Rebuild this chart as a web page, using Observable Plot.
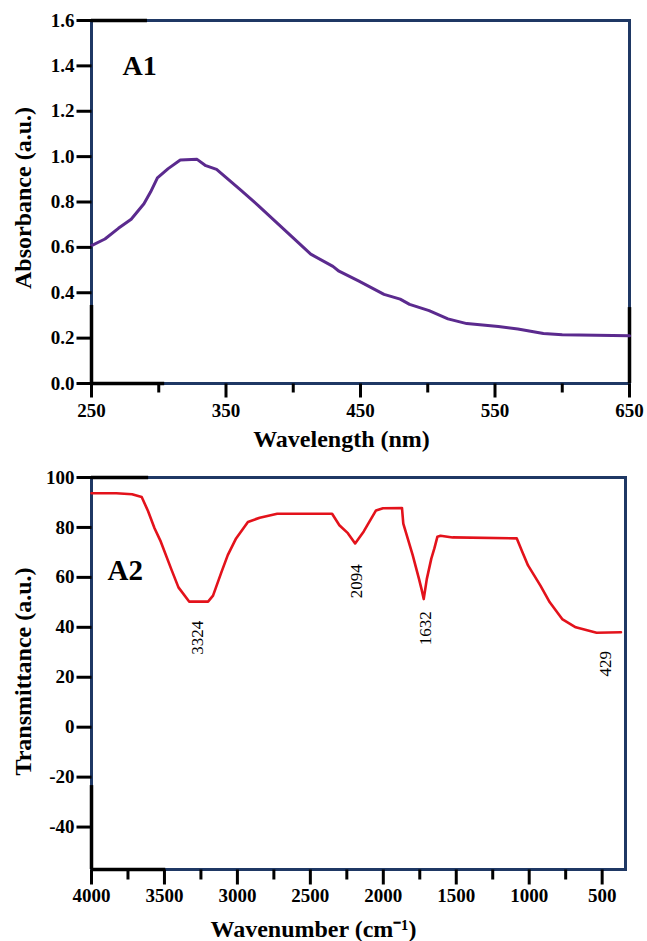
<!DOCTYPE html>
<html><head><meta charset="utf-8">
<script src="https://cdn.jsdelivr.net/npm/d3@7"></script>
<script src="https://cdn.jsdelivr.net/npm/@observablehq/plot@0.6"></script>
<style>
body{margin:0;background:#fff;}
#chart svg{display:block;}
</style></head><body><div id="chart"></div>
<script>
// ---- A1: UV-Vis absorbance ----
const wavelength = [250, 260, 270, 279.5, 289, 294, 299, 307, 316, 328.5, 335, 343, 361, 374, 393.5, 413, 429.5, 434, 448.5, 467.5, 479.5, 486.5, 501, 515, 529, 552.5, 567, 586, 600, 650];
const absorbance = [0.608, 0.637, 0.684, 0.724, 0.792, 0.845, 0.906, 0.947, 0.985, 0.988, 0.960, 0.944, 0.852, 0.784, 0.677, 0.570, 0.516, 0.495, 0.452, 0.393, 0.372, 0.349, 0.321, 0.285, 0.264, 0.251, 0.240, 0.220, 0.215, 0.210];
const uvXTicks = [250, 350, 450, 550, 650];
const uvXMinor = [300, 400, 500, 600];
const uvYTicks = [0, 0.2, 0.4, 0.6, 0.8, 1.0, 1.2, 1.4, 1.6];

// ---- A2: FTIR transmittance ----
const wavenumber = [4000, 3830, 3722, 3656, 3612, 3568, 3525, 3454, 3404, 3331, 3201, 3167, 3110, 3066, 3009, 2928, 2847, 2727, 2351, 2301, 2243, 2193, 2134, 2050, 2002, 1872, 1863, 1799, 1755, 1738, 1723, 1702, 1671, 1650, 1629, 1608, 1525, 1085, 1047, 1008, 923, 859, 774, 681, 538, 371];
const transmittance = [93.7, 93.7, 93.3, 92.2, 86.5, 79.7, 74.3, 63.4, 56, 50.3, 50.3, 52.7, 62, 68.9, 75.6, 82.2, 83.9, 85.5, 85.5, 80.9, 77.7, 73.6, 78.4, 86.8, 87.7, 87.8, 81.5, 69, 59.3, 55.3, 51.3, 59.3, 67.5, 71.6, 76.3, 76.7, 76, 75.6, 70.2, 64.8, 56.7, 50, 43.3, 40, 37.8, 38];
const peakLabels = ["3324", "2094", "1632", "429"];
const peakX = [3270, 2180, 1712, 480];
const peakY = [35.8, 58.4, 39.6, 25.4];
const irXTicks = [4000, 3500, 3000, 2500, 2000, 1500, 1000, 500];
const irXMinor = [3750, 3250, 2750, 2250, 1750, 1250, 750];
const irYTicks = [-40, -20, 0, 20, 40, 60, 80, 100];

const FONT = "'Liberation Serif', 'Times New Roman', serif";
const NAVY = "#1f3864";
const PURPLE = "#5b2a8e";
const RED = "#e3121b";
const along = (d, f) => d[0] + (d[1] - d[0]) * f;

const uvData = wavelength.map((x, i) => ({x, y: absorbance[i]}));
const irData = wavenumber.map((x, i) => ({x, y: transmittance[i]}));
const peaks = peakLabels.map((t, i) => ({t, x: peakX[i], y: peakY[i]}));

const title = {text: d => d, fontSize: 24, fontWeight: "bold", textAnchor: "middle", lineAnchor: "middle"};

// axis ticks and labels built from the tick arrays (tick lengths in pixels, converted to data units)
function axes(xd, yd, w, h, xMaj, xMin, yMaj, xLen, xMinLen, yLen, xFmt, yFmt, xLabelDy) {
  const kx = (xd[1] - xd[0]) / w, ky = (yd[1] - yd[0]) / h;
  const lab = {fontSize: 19, fontWeight: "bold", fill: "black"};
  const xt = [...xMaj.map(v => ({v, len: xLen})), ...xMin.map(v => ({v, len: xMinLen}))];
  const yt = yMaj.map(v => ({v, len: yLen}));
  return [
    Plot.text(xMaj, {x: d => d, y: yd[0], text: xFmt, dy: xLabelDy, textAnchor: "middle", lineAnchor: "middle", ...lab}),
    Plot.text(yMaj, {x: xd[0], y: d => d, text: yFmt, dx: -17, textAnchor: "end", lineAnchor: "middle", ...lab}),
    Plot.link(xt, {x1: "v", x2: "v", y1: () => yd[0], y2: d => yd[0] - d.len * ky, stroke: "black", strokeWidth: 3}),
    Plot.link(yt, {y1: "v", y2: "v", x1: () => xd[0], x2: d => xd[0] - d.len * kx, stroke: "black", strokeWidth: 3})
  ];
}

const uvX = [250, 650], uvY = [0, 1.6];
const chartA1 = Plot.plot({
  width: 647, height: 455, marginTop: 20, marginLeft: 91, marginRight: 18, marginBottom: 72,
  style: {fontFamily: FONT, background: "white", color: "black", overflow: "visible"},
  x: {domain: uvX, axis: null}, y: {domain: uvY, axis: null},
  marks: [
    Plot.frame({stroke: NAVY, strokeWidth: 3}),
    Plot.ruleX([uvX[0]], {y1: uvY[0], y2: along(uvY, 0.215), stroke: "black", strokeWidth: 3.5}),
    Plot.ruleX([uvX[1]], {y1: uvY[0], y2: along(uvY, 0.209), stroke: "black", strokeWidth: 3.5}),
    Plot.ruleY([uvY[1]], {x1: uvX[0], x2: along(uvX, 0.104), stroke: "black", strokeWidth: 3.5}),
    Plot.ruleY([uvY[0]], {x1: uvX[0], x2: along(uvX, 0.136), stroke: "black", strokeWidth: 3.5}),
    Plot.line(uvData, {x: "x", y: "y", stroke: PURPLE, strokeWidth: 3}),
    ...axes(uvX, uvY, 538, 363, uvXTicks, uvXMinor, uvYTicks, 14, 9, 15, d => String(d), d3.format(".1f"), 27),
    Plot.text(["A1"], {text: d => d, frameAnchor: "top-left", dx: 31, dy: 35, fontSize: 28, fontWeight: "bold", textAnchor: "start", lineAnchor: "top"}),
    Plot.text(["Absorbance (a.u.)"], {...title, frameAnchor: "left", rotate: -90, dx: -68, dy: -4}),
    Plot.text(["Wavelength (nm)"], {...title, frameAnchor: "bottom", dx: -19, dy: 56})
  ]
});

const irX = [4000, 340], irY = [-57, 100];
const chartA2 = Plot.plot({
  width: 647, height: 486, marginTop: 22, marginLeft: 91, marginRight: 22, marginBottom: 72,
  style: {fontFamily: FONT, background: "white", color: "black", overflow: "visible"},
  x: {domain: irX, axis: null}, y: {domain: irY, axis: null},
  marks: [
    Plot.frame({stroke: NAVY, strokeWidth: 3}),
    Plot.ruleX([irX[0]], {y1: irY[0], y2: along(irY, 0.214), stroke: "black", strokeWidth: 3.5}),
    Plot.ruleY([irY[1]], {x1: irX[0], x2: along(irX, 0.107), stroke: "black", strokeWidth: 3.5}),
    Plot.ruleY([irY[0]], {x1: irX[0], x2: along(irX, 0.139), stroke: "black", strokeWidth: 3.5}),
    Plot.line(irData, {x: "x", y: "y", stroke: RED, strokeWidth: 2.6}),
    Plot.text(peaks, {x: "x", y: "y", text: "t", rotate: -90, fontSize: 17, fill: "black", textAnchor: "middle", lineAnchor: "middle"}),
    ...axes(irX, irY, 534, 392, irXTicks, irXMinor, irYTicks, 15, 10, 15, d => String(d), d => String(d), 26),
    Plot.text(["A2"], {text: d => d, frameAnchor: "top-left", dx: 16, dy: 82, fontSize: 29, fontWeight: "bold", textAnchor: "start", lineAnchor: "top"}),
    Plot.text(["Transmittance (a.u.)"], {...title, frameAnchor: "left", rotate: -90, dx: -68, dy: -2}),
    Plot.text(["Wavenumber (cm\u207B\u00B9)"], {...title, frameAnchor: "bottom", dx: -45, dy: 60})
  ]
});

document.getElementById("chart").append(chartA1, chartA2);
</script>
</body></html>
